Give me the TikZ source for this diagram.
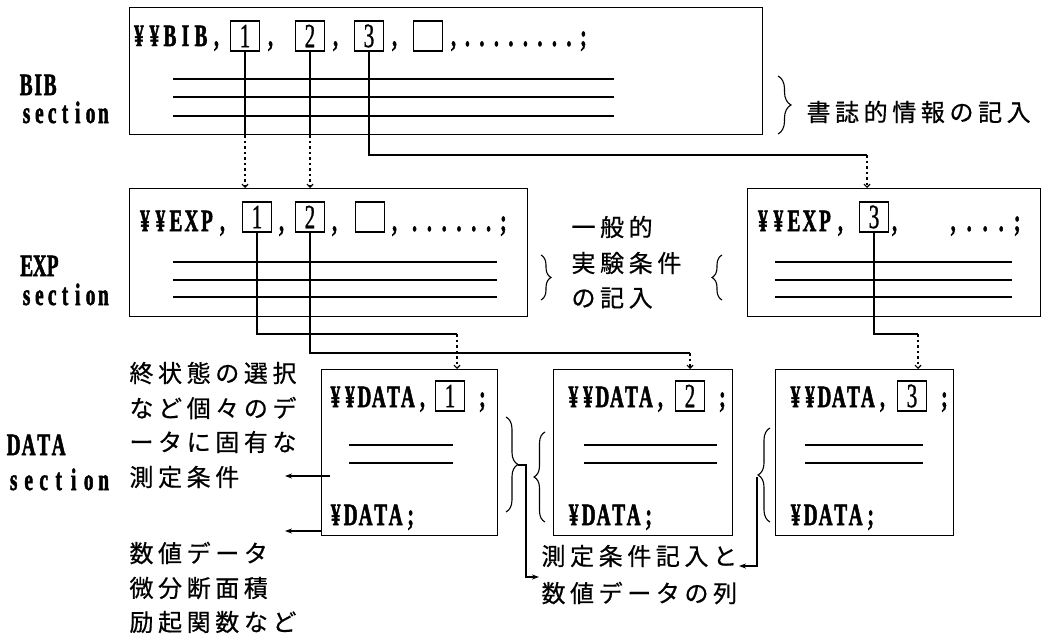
\documentclass[tikz,border=0pt]{standalone}
\usepackage{fontspec}
\newfontfamily\tyfont[FakeStretch=0.62, FakeBold=0.8]{Liberation Serif}
\newfontfamily\tybold[FakeStretch=0.62, FakeBold=1.6, UprightFont={* Bold}]{Liberation Serif}
\newfontfamily\jpfont[FakeBold=0.6]{Noto Sans CJK JP}
\usetikzlibrary{arrows.meta, calc, decorations.pathreplacing}

% fixed pitch for every character of a text
\newlength\pitchw
\newcommand\pitched[2]{\setlength\pitchw{#1}\pitchloop#2\relax}
\def\pitchloop#1{\ifx\relax#1\else\makebox[\pitchw][c]{#1}\expandafter\pitchloop\fi}

\begin{document}
\begin{tikzpicture}[
    x=1pt, y=-1pt,
    sect/.style={draw, line width=1.4pt, inner sep=0pt, anchor=north west},
    numbox/.style={draw, line width=1.2pt, minimum width=29pt, minimum height=30pt, inner sep=0pt, font=\tyfont\fontsize{34}{34}\selectfont},
    code/.style={anchor=base west, inner sep=0pt, font=\tybold\fontsize{31}{31}\selectfont},
    seclabel/.style={anchor=base west, inner sep=0pt, font=\tybold\fontsize{31}{31}\selectfont},
    jtext/.style={anchor=west, inner sep=0pt, font=\jpfont\fontsize{24}{24}\selectfont},
    rule/.style={line width=1.3pt},
    link/.style={line width=1.2pt},
    dotlink/.style={line width=1.2pt, dash pattern=on 2.5pt off 3pt, -{Straight Barb[length=3pt,width=6pt]}},
    outarrow/.style={line width=1.2pt, -{Stealth[length=7pt,width=5pt]}},
    curly/.style={decorate, decoration={brace, amplitude=#1}, line width=1.1pt}
]
    \useasboundingbox (0,0) rectangle (1046,637);

    % BIB section
    \node[sect, minimum width=633pt, minimum height=127pt] (bib) at (129,7) {};
    \node[code] (bibhead) at (131,46) {\pitched{15.5pt}{¥¥BIB,}};
    \foreach \i/\x in {1/245, 2/310, 3/369}
        \node[numbox] (bibn\i) at (\x,36) {\i};
    \node[numbox] (bibn4) at (428,36) {};
    \foreach \i/\x in {1/245, 2/310, 3/369, 4/428}
        \node[code] (bibc\i) at (\x+23,46) {,};
    \node[code] (bibdots) at (460,46) {\pitched{14.5pt}{........;}};
    \foreach \y in {79, 97, 116}
        \draw[rule] (173,\y) -- (614,\y);
    \node[seclabel] (biblab) at (20,95) {\pitched{12pt}{BIB}};
    \node[seclabel] (bibsec) at (20,123) {\pitched{12.8pt}{section}};
    \draw[curly=13pt] (778,76) -- (778,134);
    \node[jtext] (bibnote) at (804,112) {\pitched{28.6pt}{書誌的情報の記入}};

    % EXP section
    \node[sect, minimum width=398pt, minimum height=128pt] (expa) at (129,188) {};
    \node[code] (expahead) at (137,231) {\pitched{15.5pt}{¥¥EXP,}};
    \foreach \i/\x in {1/257, 2/310}
        \node[numbox] (expn\i) at (\x,217) {\i};
    \node[numbox] (expn4) at (370,217) {};
    \foreach \i/\x in {1/257, 2/310, 4/370}
        \node[code] (expc\i) at (\x+22,231) {,};
    \node[code] (expadots) at (407,231) {\pitched{14.8pt}{......;}};
    \foreach \y in {262, 280, 297}
        \draw[rule] (173,\y) -- (497,\y);
    \node[seclabel] (explab) at (20,276) {\pitched{13pt}{EXP}};
    \node[seclabel] (expsec) at (20,305) {\pitched{12.8pt}{section}};

    \node[sect, minimum width=293pt, minimum height=128pt] (expc) at (747,188) {};
    \node[code] (expchead) at (755,231) {\pitched{15.5pt}{¥¥EXP,}};
    \node[numbox] (expn3) at (874,217) {3};
    \node[code] (expc3) at (892,231) {,};
    \node[code] (expcdots) at (945,231) {\pitched{16pt}{,...;}};
    \foreach \y in {262, 280, 297}
        \draw[rule] (775,\y) -- (1012,\y);

    \draw[curly=10pt] (541,255) -- (541,300);
    \draw[curly=10pt] (722,300) -- (722,255);
    \node[jtext] (expnotea) at (569,227) {\pitched{28.6pt}{一般的}};
    \node[jtext] (expnoteb) at (569,263) {\pitched{28.6pt}{実験条件}};
    \node[jtext] (expnotec) at (569,298) {\pitched{28.6pt}{の記入}};

    % DATA section
    \node[sect, minimum width=176pt, minimum height=166pt] (dataa) at (321,369) {};
    \node[sect, minimum width=179pt, minimum height=166pt] (datab) at (553,369) {};
    \node[sect, minimum width=178pt, minimum height=166pt] (datac) at (775,369) {};
    \foreach \n/\x/\b in {a/328/450, b/566/690, c/788/912} {
        \node[code] (data\n head) at (\x,407) {\pitched{14.5pt}{¥¥DATA,}};
        \node[code] (data\n tail) at (\x,525) {\pitched{15pt}{¥DATA;}};
        \node[code] (data\n semi) at (\b+29,407) {;};
    }
    \node[numbox] (datan1) at (450,396) {1};
    \node[numbox] (datan2) at (690,396) {2};
    \node[numbox] (datan3) at (912,396) {3};
    \foreach \y in {445, 463} {
        \draw[rule] (349,\y) -- (453,\y);
        \draw[rule] (584,\y) -- (717,\y);
        \draw[rule] (805,\y) -- (923,\y);
    }
    \node[seclabel] (datalab) at (6,455) {\pitched{15pt}{DATA}};
    \node[seclabel] (datasec) at (6,490) {\pitched{15pt}{section}};

    \node[jtext] (conda) at (127,373) {\pitched{28.6pt}{終状態の選択}};
    \node[jtext] (condb) at (127,408) {\pitched{28.6pt}{など個々のデ}};
    \node[jtext] (condc) at (127,442) {\pitched{28.6pt}{ータに固有な}};
    \node[jtext] (condd) at (127,477) {\pitched{28.6pt}{測定条件}};
    \node[jtext] (numa) at (127,553) {\pitched{28.6pt}{数値データ}};
    \node[jtext] (numb) at (127,588) {\pitched{28.6pt}{微分断面積}};
    \node[jtext] (numc) at (127,622) {\pitched{28.6pt}{励起関数など}};
    \node[jtext] (lista) at (539,556) {\pitched{28.6pt}{測定条件記入と}};
    \node[jtext] (listb) at (539,593) {\pitched{28.6pt}{数値データの列}};

    \draw[curly=12pt] (506,417) -- (506,512);
    \draw[curly=11pt] (545,522) -- (545,432);
    \draw[curly=12pt] (770,522) -- (770,428);

    % Connectors
    \foreach \i in {1, 2} {
        \draw[link] (bibn\i) -- (bibn\i |- bib.south);
        \draw[dotlink] (bibn\i |- bib.south) -- (bibn\i |- expa.north);
    }
    \coordinate (bibturn) at (867,155);
    \draw[link] (bibn3) |- (bibturn);
    \draw[dotlink] (bibturn) -- (bibturn |- expc.north);

    \coordinate (expturna) at (457,334);
    \coordinate (expturnb) at (690,353);
    \coordinate (expturnc) at (918,334);
    \draw[link] (expn1) |- (expturna);
    \draw[link] (expn2) |- (expturnb);
    \draw[link] (expn3) |- (expturnc);
    \draw[dotlink] (expturna) -- (expturna |- dataa.north);
    \draw[dotlink] (expturnb) -- (expturnb |- datab.north);
    \draw[dotlink] (expturnc) -- (expturnc |- datac.north);

    \coordinate (condend) at (285,476);
    \coordinate (numend) at (285,531);
    \draw[outarrow] ($(dataa.west |- condend)+(9,0)$) -- (condend);
    \draw[outarrow] (dataa.west |- numend) -- (numend);

    \coordinate (tipa) at (518,465);
    \coordinate (turna) at (526,577);
    \draw[outarrow] (tipa) -| (turna) -- (turna -| listb.west);
    \coordinate (tipc) at (757,477);
    \coordinate (listaend) at (739,566);
    \draw[outarrow] (tipc) |- (listaend);

\end{tikzpicture}
\end{document}
